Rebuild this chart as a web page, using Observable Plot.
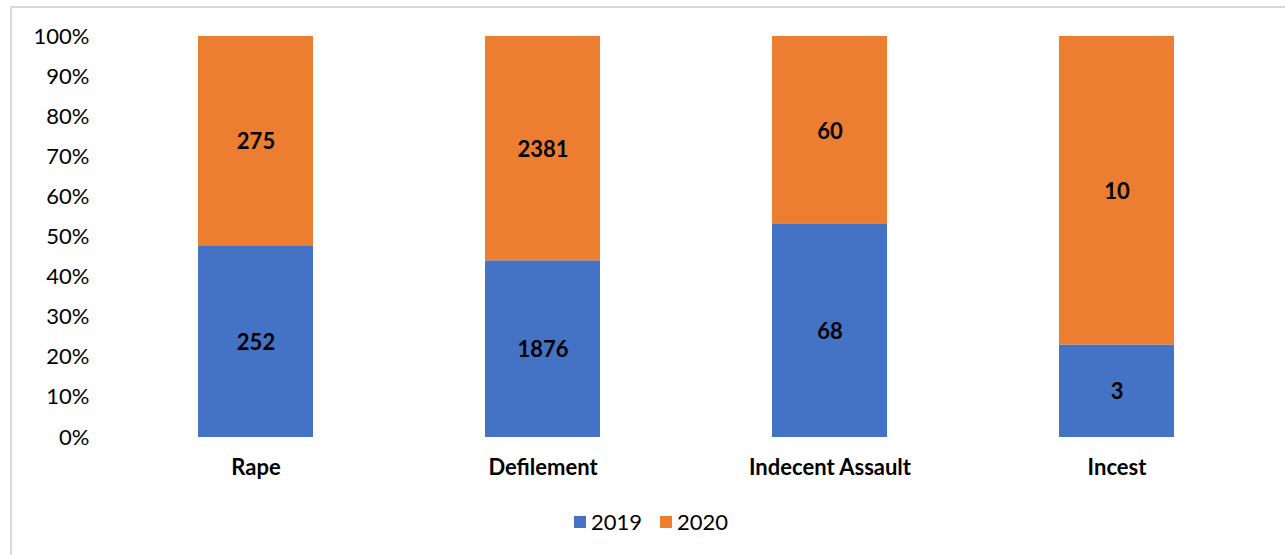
<!DOCTYPE html>
<html>
<head>
<meta charset="utf-8">
<script src="https://cdn.jsdelivr.net/npm/d3@7"></script>
<script src="https://cdn.jsdelivr.net/npm/@observablehq/plot@0.6"></script>
<style>
  html, body { margin: 0; padding: 0; background: #fff; }
  body { width: 1285px; height: 555px; position: relative; overflow: hidden; font-family: Lato, "Open Sans", sans-serif; }
  #frame { position: absolute; left: 10px; top: 6px; width: 1290px; height: 560px; border: 2px solid #d9d9d9; box-sizing: border-box; }
  #chart { position: absolute; left: 0; top: 0; }
  #legend { position: absolute; left: 574px; top: 508px; height: 27px; display: flex; align-items: center; gap: 18px; font-size: 22px; line-height: 27px; color: #000; }
  .item { display: flex; align-items: center; gap: 5px; }
  .sw { width: 12px; height: 12px; display: inline-block; }
</style>
</head>
<body>
<div id="frame"></div>
<div id="chart"></div>
<div id="legend"></div>
<script>
const categories = ["Rape", "Defilement", "Indecent Assault", "Incest"];
const years = ["2019", "2020"];
const values2019 = [252, 1876, 68, 3];
const values2020 = [275, 2381, 60, 10];
const colors = ["#4472C4", "#ED7D31"];
const yTicks = [0, 0.1, 0.2, 0.3, 0.4, 0.5, 0.6, 0.7, 0.8, 0.9, 1];

const data = [];
categories.forEach((c, i) => {
  data.push({category: c, year: years[0], value: values2019[i]});
  data.push({category: c, year: years[1], value: values2020[i]});
});

const chart = Plot.plot({
  width: 1285,
  height: 490,
  marginLeft: 112,
  marginRight: 25,
  marginTop: 36,
  marginBottom: 53,
  style: {fontFamily: "Lato, 'Open Sans', sans-serif", fontSize: "22px", color: "#000", background: "transparent"},
  x: {domain: categories, paddingInner: 0.6, paddingOuter: 0.3, label: null},
  y: {domain: [0, 1], label: null},
  color: {domain: years, range: colors},
  marks: [
    Plot.ruleY(yTicks, {stroke: "#d9d9d9", strokeWidth: 1.5, x1: 112, x2: 1258}),
    Plot.barY(data, Plot.stackY({x: "category", y: "value", z: "year", fill: "year", offset: "normalize", order: null})),
    Plot.text(data, Plot.stackY({x: "category", y: "value", z: "year", text: d => String(d.value), offset: "normalize", order: null, fontWeight: "bold", fontSize: 22, fill: "#000", dy: 1})),
    Plot.axisY({ticks: yTicks, tickFormat: d3.format(".0%"), tickSize: 0, tickPadding: 23, fontSize: 22, label: null}),
    Plot.axisX({tickSize: 0, tickPadding: 22, fontSize: 22, fontWeight: "bold", label: null})
  ]
});
document.getElementById("chart").appendChild(chart);

const legend = document.getElementById("legend");
years.forEach((y, i) => {
  const item = document.createElement("div");
  item.className = "item";
  const sw = document.createElement("span");
  sw.className = "sw";
  sw.style.background = colors[i];
  const t = document.createElement("span");
  t.textContent = y;
  item.appendChild(sw);
  item.appendChild(t);
  legend.appendChild(item);
});
</script>
</body>
</html>
